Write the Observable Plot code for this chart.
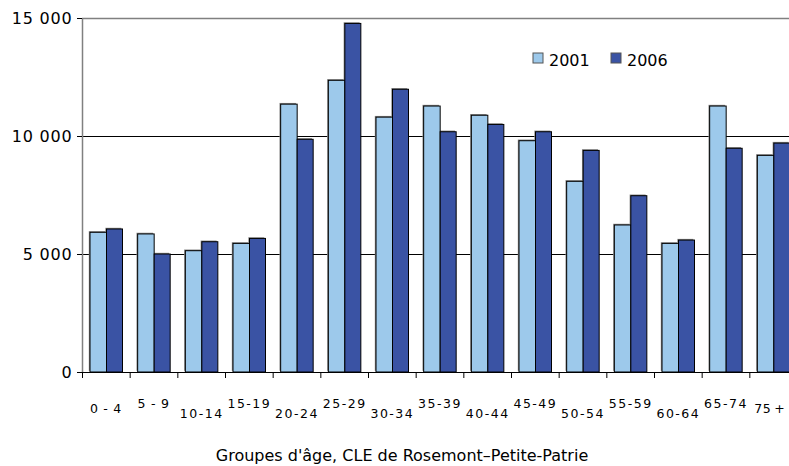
<!DOCTYPE html>
<html>
<head>
<meta charset="utf-8">
<script src="https://cdn.jsdelivr.net/npm/d3@7"></script>
<script src="https://cdn.jsdelivr.net/npm/@observablehq/plot@0.6"></script>
<style>
  html, body { margin: 0; padding: 0; background: #fff; overflow: hidden; }
  #chart { position: relative; width: 789px; height: 466px; overflow: hidden; }
  #chart svg { overflow: hidden; }
</style>
</head>
<body>
<div id="chart"></div>
<script>
const ageGroups = ["0\u2009-\u20094", "5\u2009-\u20099", "10-14", "15-19", "20-24", "25-29", "30-34", "35-39", "40-44", "45-49", "50-54", "55-59", "60-64", "65-74", "75\u2009+"];
const values2001 = [5920, 5850, 5140, 5450, 11350, 12360, 10800, 11270, 10880, 9800, 8080, 6230, 5450, 11270, 9180];
const values2006 = [6060, 5000, 5520, 5660, 9860, 14770, 11980, 10180, 10490, 10180, 9390, 7470, 5590, 9480, 9700];
const seriesNames = ["2001", "2006"];
const yTicks = [0, 5000, 10000, 15000];
const xTitle = "Groupes d'âge, CLE de Rosemont–Petite-Patrie";

const colors = {"2001": "#9dc9eb", "2006": "#3a53a4"};
const rows = ageGroups.map((g, i) => ({group: g, v2001: values2001[i], v2006: values2006[i]}));

const xRange = [82, 797];
const band = (xRange[1] - xRange[0]) / ageGroups.length;
const fmt = d => d3.format(",")(d).replace(/,/g, " ");

const last = ageGroups.length - 1;
const evenLabels = ageGroups.filter((d, i) => i > 0 && i < last && i % 2 === 0);
const oddLabels = ageGroups.filter((d, i) => i > 0 && i < last && i % 2 === 1);

const xLabelStyle = {fontSize: 12.5, fontFamily: "DejaVu Sans", tickSize: 0, label: null};

const plot = Plot.plot({
  width: 789,
  height: 466,
  marginTop: 18,
  marginBottom: 94,
  marginLeft: 82,
  marginRight: 0,
  style: {fontFamily: "DejaVu Sans", fontSize: "16px", color: "#000", background: "#fff"},
  x: {domain: ageGroups, range: xRange, padding: 0, round: false},
  y: {domain: [0, 15000]},
  marks: [
    Plot.ruleY([5000, 10000], {stroke: "#000", strokeWidth: 1}),
    Plot.ruleY([15000], {stroke: "#808080", strokeWidth: 1.5}),
    // shadows
    Plot.barY(rows, {x: "group", y: "v2001", fill: "#8a8a8a", insetLeft: 8, insetRight: band - 24.5, dx: -1.2, dy: -1.2}),
    Plot.barY(rows, {x: "group", y: "v2006", fill: "#8a8a8a", insetLeft: 24.5, insetRight: band - 40.5, dx: -1.2, dy: -1.2}),
    Plot.barY(rows, {x: "group", y: "v2001", fill: colors["2001"], stroke: "#000", strokeWidth: 1, insetLeft: 8, insetRight: band - 24.5}),
    Plot.barY(rows, {x: "group", y: "v2006", fill: colors["2006"], stroke: "#000", strokeWidth: 1, insetLeft: 24.5, insetRight: band - 40.5}),
    Plot.ruleX([0], {x: () => ageGroups[0], dx: -band / 2, stroke: "#808080", strokeWidth: 1.5}),
    Plot.ruleY([0], {stroke: "#000", strokeWidth: 1.2}),
    Plot.axisY({ticks: yTicks, tickFormat: fmt, tickSize: 5, tickPadding: 5, label: null, stroke: "#000", fontSize: 16}),
    Plot.axisX({ticks: ageGroups, tickFormat: null, tickSize: 6, dx: -band / 2, label: null, stroke: "#000"}),
    Plot.axisX({ticks: oddLabels, ...xLabelStyle, tickPadding: 27}),
    Plot.axisX({ticks: [ageGroups[0]], ...xLabelStyle, tickPadding: 32}),
    Plot.axisX({ticks: [ageGroups[last]], ...xLabelStyle, tickPadding: 32, dx: -4, className: "lastlab"}),
    Plot.axisX({ticks: evenLabels, ...xLabelStyle, tickPadding: 37})
  ]
});

document.getElementById("chart").appendChild(plot);

// letter spacing on axis labels
d3.select(plot).selectAll("g[aria-label='x-axis tick label'] text").style("letter-spacing", "1.5px");
d3.select(plot).selectAll(".lastlab text").style("letter-spacing", "0.5px");
d3.select(plot).selectAll("g[aria-label='y-axis tick label'] text").style("letter-spacing", "0.8px");

// Legend and x title inside the SVG
const svg = d3.select(plot);
const leg = svg.append("g").attr("font-family", "DejaVu Sans").attr("font-size", 16).attr("text-anchor", "start");
const legX = [533, 611];
seriesNames.forEach((s, i) => {
  leg.append("rect").attr("x", legX[i]).attr("y", 53).attr("width", 10).attr("height", 10)
    .attr("fill", colors[s]).attr("stroke", "#555").attr("stroke-width", 1);
  leg.append("text").attr("x", legX[i] + 16).attr("y", 65.5).attr("fill", "#000").attr("text-anchor", "start").text(s);
});
svg.append("text").attr("x", 402).attr("y", 461).attr("text-anchor", "middle")
  .attr("font-family", "DejaVu Sans").attr("font-size", 16).attr("fill", "#000").text(xTitle);
</script>
</body>
</html>
